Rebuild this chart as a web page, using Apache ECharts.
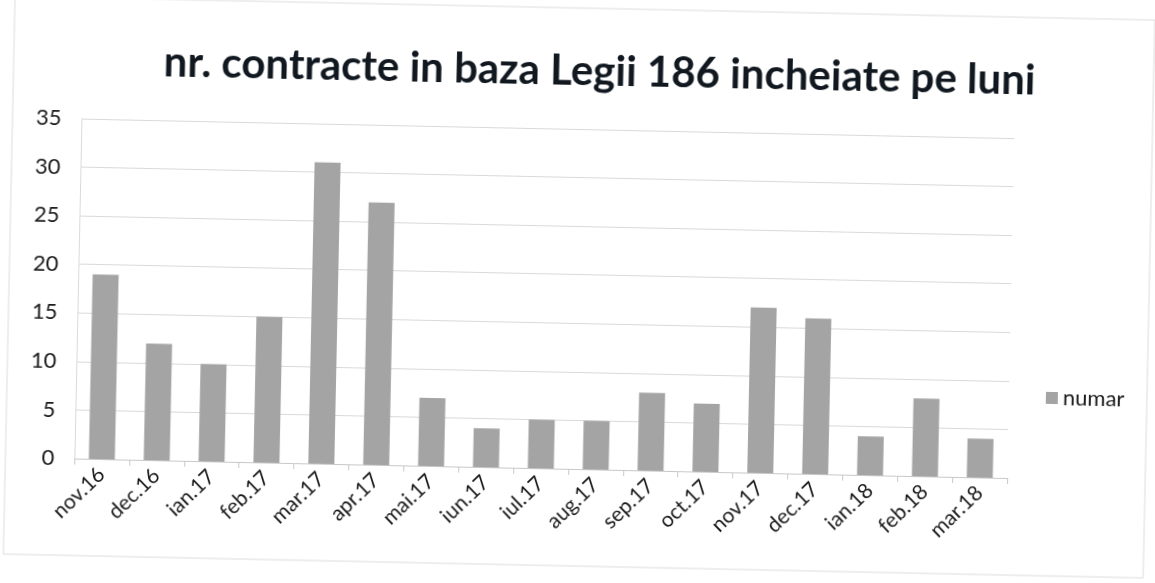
<!DOCTYPE html>
<html>
<head>
<meta charset="utf-8">
<script src="https://cdn.jsdelivr.net/npm/echarts@6/dist/echarts.min.js"></script>
<style>
  html, body { margin: 0; padding: 0; background: #fff; }
  #chart {
    width: 1155px; height: 583px;
    transform: rotate(1.2deg);
    transform-origin: 577px 291px;
  }
</style>
</head>
<body>
<div id="chart"></div>
<script>
// monthly number of contracts
const months = ['nov.16', 'dec.16', 'ian.17', 'feb.17', 'mar.17', 'apr.17', 'mai.17', 'iun.17', 'iul.17',
  'aug.17', 'sep.17', 'oct.17', 'nov.17', 'dec.17', 'ian.18', 'feb.18', 'mar.18'];
const numar = [19, 12, 10, 15, 31, 27, 7, 4, 5, 5, 8, 7, 17, 16, 4, 8, 4];

const font = 'Lato, "Open Sans", sans-serif';

let myChart = echarts.init(document.getElementById('chart'));
myChart.setOption({
    animation: false,
    title: {
        text: 'nr. contracte in baza Legii 186 incheiate pe luni',
        left: 590,
        textAlign: 'center',
        top: 45,
        textStyle: {fontFamily: font, fontSize: 42, fontWeight: 'bold', color: '#111820'}
    },
    legend: {
        data: ['numar'],
        orient: 'vertical',
        left: 1043,
        top: 372,
        itemWidth: 12,
        itemHeight: 12,
        itemGap: 6,
        icon: 'rect',
        textStyle: {fontFamily: font, fontSize: 22, color: '#1a1a1a'}
    },
    grid: {left: 78, right: 144, top: 129, bottom: 114},
    xAxis: {
        type: 'category',
        data: months,
        axisLine: {lineStyle: {color: '#c8c8c8'}},
        axisTick: {show: true, lineStyle: {color: '#c8c8c8'}, length: 6},
        axisLabel: {rotate: 45, fontFamily: font, fontSize: 21, color: '#1a1a1a', margin: 12}
    },
    yAxis: {
        type: 'value',
        min: 0,
        max: 35,
        interval: 5,
        axisLine: {show: true, lineStyle: {color: '#dadada'}},
        axisLabel: {fontFamily: font, fontSize: 22, color: '#1a1a1a', margin: 20},
        splitLine: {lineStyle: {color: '#d9d9d9'}}
    },
    series: [{
        name: 'numar',
        type: 'bar',
        data: numar,
        barWidth: 26,
        itemStyle: {color: '#a4a4a4'}
    }],
    graphic: [{
        type: 'rect',
        shape: {x: 9, y: 8, width: 1140, height: 558},
        style: {fill: 'none', stroke: '#dcdcdc', lineWidth: 1},
        silent: true
    }]
});
</script>
</body>
</html>
